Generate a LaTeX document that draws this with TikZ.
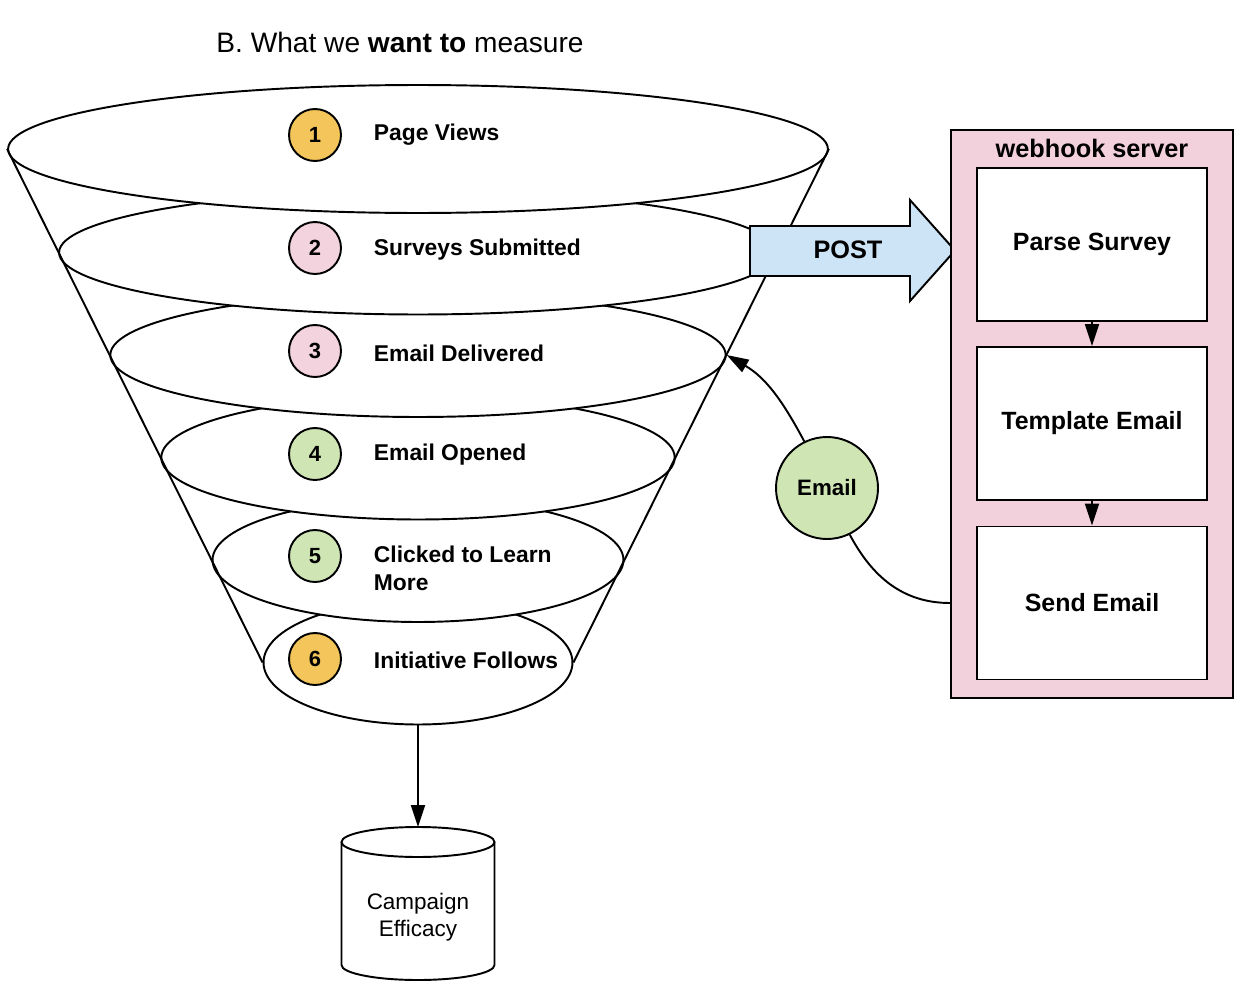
\documentclass[tikz,border=0pt]{standalone}
\usepackage{fontspec}
\setmainfont{Liberation Sans}
\usetikzlibrary{shapes.geometric,arrows.meta}

\definecolor{stepgold}{HTML}{F3C55B}
\definecolor{steppink}{HTML}{F2D3DE}
\definecolor{stepgreen}{HTML}{CFE6B4}
\definecolor{postblue}{HTML}{CCE4F6}
\definecolor{srvpink}{HTML}{F2D1DC}

\tikzset{
  funnel/.style={ellipse, draw, fill=white, inner sep=0pt, minimum height=24.8mm},
  stepnum/.style={circle, draw, inner sep=0pt, minimum size=10.4mm,
    font=\fontsize{12.5}{15}\selectfont\bfseries},
  steplbl/.style={anchor=west, align=left, inner sep=0pt,
    font=\fontsize{13}{15.8}\selectfont\bfseries},
  stepbox/.style={draw, fill=white, minimum width=46mm, minimum height=30.6mm,
    font=\fontsize{14.2}{17}\selectfont\bfseries},
  flow/.style={-{Triangle[length=4.4mm,width=2.8mm]}},
}

\begin{document}
\begin{tikzpicture}[x=0.02cm, y=0.02cm, line width=1.1pt]
  \useasboundingbox (0,0) rectangle (1258,-1004);

  % Title
  \node (title) at (400,-42) {\fontsize{16}{19}\selectfont B. What we \textbf{want to} measure};

  % Funnel layers, drawn from the bottom up
  \foreach \i/\w in {6/61.8, 5/82.2, 4/102.7, 3/123.1, 2/143.6} {
    \node[funnel, minimum width=\w mm] (e\i) at (418,{-150-102.5*(\i-1)}) {};
  }
  \node[funnel, minimum width=164mm, minimum height=25.6mm] (e1) at (418,-149) {};

  % Funnel sides
  \draw (e1.west) -- (e6.west);
  \draw (e1.east) -- (e6.east);

  % Steps
  \foreach \i/\cy/\ly/\col/\txt in {1/135/135/stepgold/Page Views,
      2/248/250/steppink/Surveys Submitted,
      3/351/353/steppink/Email Delivered,
      4/454/455/stepgreen/Email Opened,
      5/556/568/stepgreen/Clicked to Learn\\More,
      6/659/660/stepgold/Initiative Follows} {
    \node[stepnum, fill=\col] (n\i) at (315,-\cy) {\i};
    \node[steplbl] (l\i) at (373,-\ly) {\txt};
  }

  % POST arrow
  \draw[fill=postblue] (750,-226) -- (910,-226) -- (910,-200) -- (955,-250.5)
    -- (910,-301) -- (910,-276) -- (750,-276) -- cycle;
  \node[font=\fontsize{14.4}{17}\selectfont\bfseries] (post) at (848,-250) {POST};

  % Webhook server
  \node[draw, fill=srvpink, minimum width=56.4mm, minimum height=113.6mm] (srv) at (1092,-414) {};
  \node[font=\fontsize{14.4}{17}\selectfont\bfseries] (srvname) at (1092,-148) {webhook server};
  \node[stepbox] (parse) at (1092,-244.5) {Parse Survey};
  \node[stepbox] (template) at (1092,-423.5) {Template Email};
  \node[stepbox] (send) at (1092,-603) {Send Email};
  \draw[flow] (parse) -- (template);
  \draw[flow] (template) -- (send);

  % Email back to the funnel
  \node[circle, draw, fill=stepgreen, inner sep=0pt, minimum size=20.4mm,
    font=\fontsize{12.7}{15}\selectfont\bfseries] (mail) at (827,-488) {Email};
  \draw (srv.west |- send.west) to[out=180, in=-62] (mail.-64);
  \draw[flow] (mail.116) to[out=118, in=-30] (e3.east);

  % Campaign efficacy store
  \coordinate (dbtop) at (418,-827);
  \draw[fill=white] (341.5,-842) -- (341.5,-965)
    arc[start angle=180, end angle=360, x radius=76.5, y radius=15] -- (494.5,-842);
  \draw[fill=white] (418,-842) ellipse [x radius=76.5, y radius=15];
  \node[align=center, font=\fontsize{12.8}{15.4}\selectfont] (db) at (418,-917) {Campaign\\Efficacy};
  \draw[flow] (e6.south) -- (dbtop);
\end{tikzpicture}
\end{document}
